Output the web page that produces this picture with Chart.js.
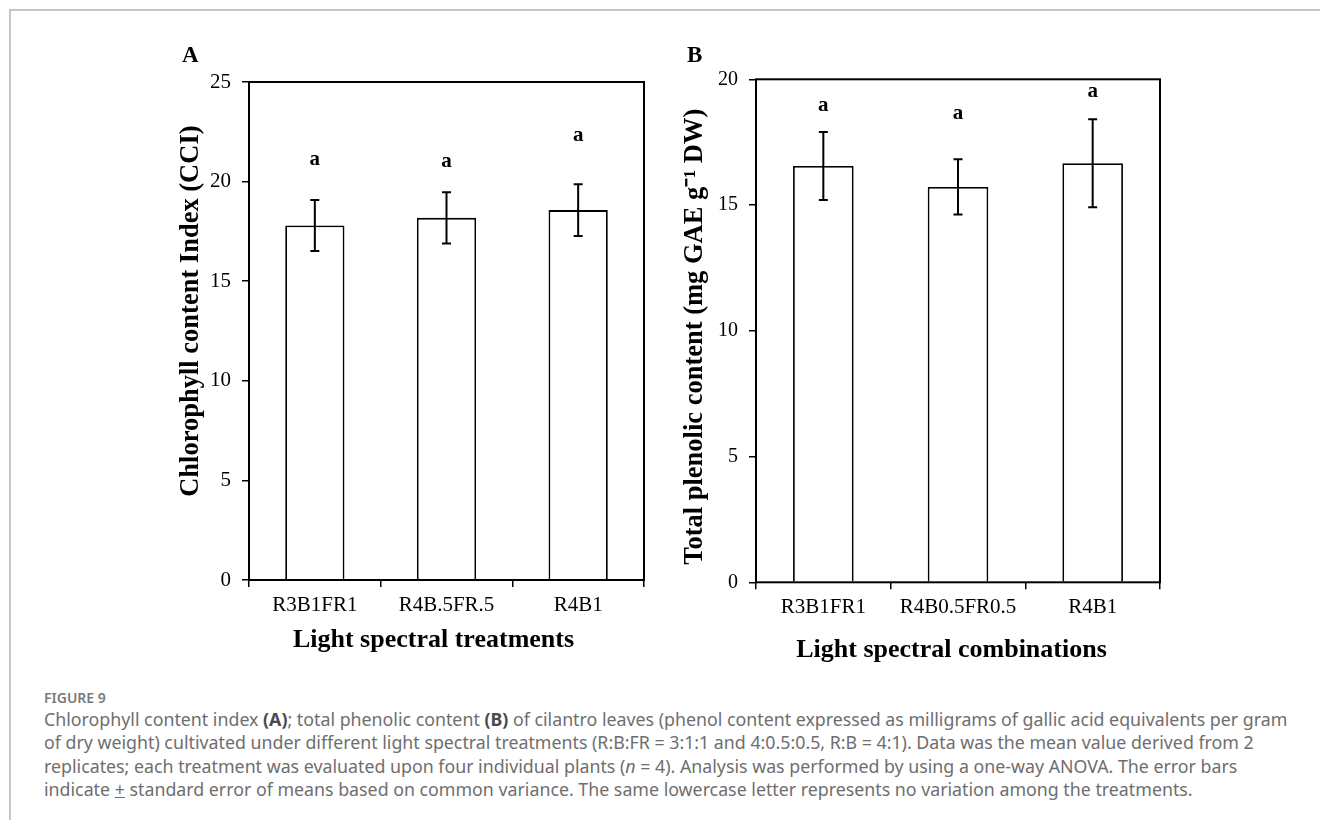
<!DOCTYPE html>
<html>
<head>
<meta charset="utf-8">
<script src="https://cdn.jsdelivr.net/npm/chart.js@4.4.1/dist/chart.umd.min.js"></script>
<style>
  body { margin: 0; background: #fff; width: 1320px; height: 820px; overflow: hidden; position: relative; }
  #frame { position: absolute; left: 9px; top: 9px; right: -5px; bottom: -5px; border-left: 2px solid #c6c6c6; border-top: 2px solid #c6c6c6; }
  #wrapA { position: absolute; left: 0; top: 0; width: 660px; height: 680px; }
  #wrapB { position: absolute; left: 660px; top: 0; width: 660px; height: 680px; }
  .panel { position: absolute; font: bold 23px 'Liberation Serif', serif; line-height: 23px; color: #000; }
  #cap { position: absolute; left: 44px; top: 688px; color: #6e6e6e; font-family: 'Noto Sans', sans-serif; }
  #cap .fig { font-size: 14px; font-weight: 600; color: #7a7a7a; line-height: 20px; }
  #cap .line { font-size: 17.8px; line-height: 23.4px; white-space: nowrap; }
  #cap b { color: #4a4a4a; font-weight: 700; }
</style>
</head>
<body>
<div id="frame"></div>
<div id="wrapA"><canvas id="chartA" width="660" height="680"></canvas></div>
<div id="wrapB"><canvas id="chartB" width="660" height="680"></canvas></div>
<div class="panel" style="left:182px; top:43px;">A</div>
<div class="panel" style="left:687px; top:43px;">B</div>
<div id="cap">
  <div class="fig">FIGURE 9</div>
  <div class="line">Chlorophyll content index <b>(A)</b>; total phenolic content <b>(B)</b> of cilantro leaves (phenol content expressed as milligrams of gallic acid equivalents per gram</div>
  <div class="line">of dry weight) cultivated under different light spectral treatments (R:B:FR = 3:1:1 and 4:0.5:0.5, R:B = 4:1). Data was the mean value derived from 2</div>
  <div class="line">replicates; each treatment was evaluated upon four individual plants (<i>n</i> = 4). Analysis was performed by using a one-way ANOVA. The error bars</div>
  <div class="line">indicate <u>+</u> standard error of means based on common variance. The same lowercase letter represents no variation among the treatments.</div>
</div>
<script>
// categories
var treatmentsA = ['R3B1FR1', 'R4B.5FR.5', 'R4B1'];
var treatmentsB = ['R3B1FR1', 'R4B0.5FR0.5', 'R4B1'];
// panel A: chlorophyll content index
var chlorophyll = [17.8, 18.18, 18.57];
var chlorophyllErr = [1.28, 1.29, 1.3];
var chlorophyllLetterY = [21.08, 20.94, 22.28];
// panel B: total phenolic content
var phenolic = [16.55, 15.72, 16.66];
var phenolicErr = [1.35, 1.1, 1.75];
var phenolicLetterY = [18.93, 18.61, 19.49];
// significance letters
var letters = ['a', 'a', 'a'];

var serif = "'Liberation Serif', 'Times New Roman', serif";

// box around plot, error bars and letters
var errorBars = {
  id: 'errorBars',
  afterDatasetsDraw: function(chart, args, opts) {
    var ctx = chart.ctx, ys = chart.scales.y, ca = chart.chartArea;
    var meta = chart.getDatasetMeta(0);
    var vals = chart.data.datasets[0].data;
    ctx.save();
    ctx.strokeStyle = '#000';
    ctx.lineWidth = 2;
    ctx.strokeRect(ca.left, ca.top, ca.right - ca.left, ca.bottom - ca.top);
    meta.data.forEach(function(bar, i) {
      var top = ys.getPixelForValue(vals[i] + opts.errors[i]);
      var bot = ys.getPixelForValue(vals[i] - opts.errors[i]);
      ctx.beginPath();
      ctx.moveTo(bar.x, top); ctx.lineTo(bar.x, bot);
      ctx.moveTo(bar.x - 4.5, top); ctx.lineTo(bar.x + 4.5, top);
      ctx.moveTo(bar.x - 4.5, bot); ctx.lineTo(bar.x + 4.5, bot);
      ctx.stroke();
      ctx.font = 'bold 21px ' + serif;
      ctx.fillStyle = '#000';
      ctx.textAlign = 'center';
      ctx.textBaseline = 'alphabetic';
      ctx.fillText(letters[i], bar.x, ys.getPixelForValue(opts.letterY[i]) + 4.5);
    });
    ctx.restore();
  }
};

function makeChart(id, labels, values, errs, letterY, yMax, yTitle, xTitle, lay) {
  return new Chart(document.getElementById(id), {
    type: 'bar',
    data: {
      labels: labels,
      datasets: [{
        data: values,
        backgroundColor: '#fff',
        borderColor: '#000',
        borderWidth: 1.8,
        categoryPercentage: 1,
        barPercentage: 0.45
      }]
    },
    options: {
      responsive: false,
      animation: false,
      layout: { padding: lay.padding },
      plugins: {
        legend: { display: false },
        tooltip: { enabled: false },
        errorBars: { errors: errs, letterY: letterY }
      },
      scales: {
        x: {
          grid: { drawOnChartArea: false, drawTicks: true, tickLength: 7, color: '#000', lineWidth: 1.5, offset: true },
          border: { display: false },
          ticks: { color: '#000', padding: 6, font: { family: serif, size: 21 } },
          title: { display: true, text: xTitle, color: '#000', padding: 0, font: { family: serif, size: 26, weight: 'bold' } },
          afterFit: function(s) { s.height = lay.xHeight; }
        },
        y: {
          min: 0, max: yMax,
          grid: { drawOnChartArea: false, drawTicks: true, tickLength: 7, color: '#000', lineWidth: 1.5 },
          border: { display: false },
          ticks: { stepSize: 5, color: '#000', padding: 11, font: { family: serif, size: lay.yTickSize } },
          title: { display: true, text: yTitle, color: '#000', padding: 0, font: { family: serif, size: 26.5, weight: 'bold' } },
          afterFit: function(s) { s.width = lay.yWidth; }
        }
      }
    },
    plugins: [errorBars]
  });
}

makeChart('chartA', treatmentsA, chlorophyll, chlorophyllErr, chlorophyllLetterY, 25,
  '\u00a0\u00a0\u00a0\u00a0\u00a0\u00a0Chlorophyll content Index (CCI)',
  'Light spectral treatments\u00a0\u00a0\u00a0\u00a0',
  { padding: { left: 175.1, top: 82, right: 16, bottom: 24.4 }, yWidth: 73.9, xHeight: 75.6, yTickSize: 21 });

makeChart('chartB', treatmentsB, phenolic, phenolicErr, phenolicLetterY, 20,
  'Total plenolic content (mg GAE g\u207b\u00b9 DW)\u00a0\u2009',
  'Light spectral combinations\u00a0\u00a0',
  { padding: { left: 19.1, top: 79.3, right: 160, bottom: 14.4 }, yWidth: 76.9, xHeight: 83.3, yTickSize: 20 });
</script>
</body>
</html>
